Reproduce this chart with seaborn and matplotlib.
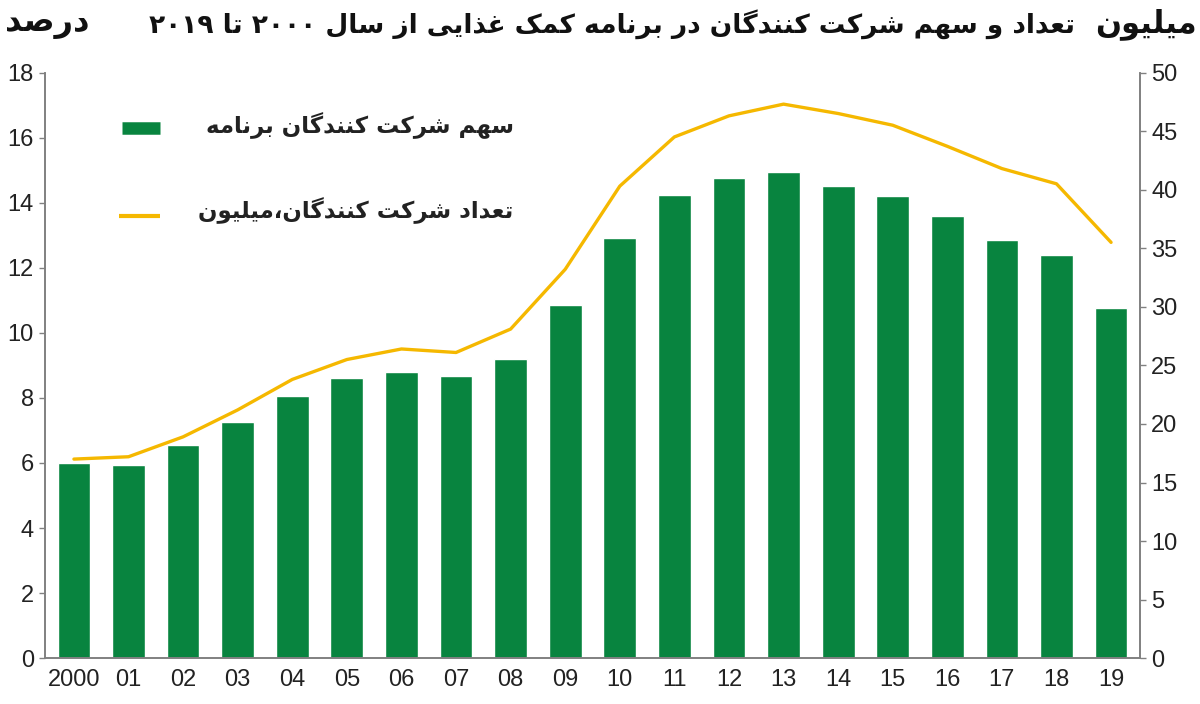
import re
import numpy as np
import pandas as pd
import seaborn as sns
import matplotlib.pyplot as plt

years = ["2000", "01", "02", "03", "04", "05", "06", "07", "08", "09",
         "10", "11", "12", "13", "14", "15", "16", "17", "18", "19"]
share_pct = [6.0, 5.95, 6.55, 7.25, 8.05, 8.6, 8.8, 8.67, 9.2, 10.85,
             12.9, 14.25, 14.75, 14.95, 14.5, 14.2, 13.6, 12.85, 12.4, 10.75]
count_mln = [17.0, 17.2, 18.9, 21.2, 23.8, 25.5, 26.4, 26.1, 28.1, 33.2,
             40.3, 44.5, 46.3, 47.3, 46.5, 45.5, 43.7, 41.8, 40.5, 35.5]

title_txt = "تعداد و سهم شرکت کنندگان در برنامه کمک غذایی از سال ۲۰۰۰ تا ۲۰۱۹"
left_unit = "درصد"
right_unit = "میلیون"
legend_bar = "سهم شرکت کنندگان برنامه"
legend_line = "تعداد شرکت کنندگان،میلیون"

# matplotlib has no arabic shaping: map letters to presentation forms by hand
FORMS = {
    'ا': ('\uFE8D', '\uFE8E', None, None),
    'ب': ('\uFE8F', '\uFE90', '\uFE91', '\uFE92'),
    'ت': ('\uFE95', '\uFE96', '\uFE97', '\uFE98'),
    'د': ('\uFEA9', '\uFEAA', None, None),
    'ذ': ('\uFEAB', '\uFEAC', None, None),
    'ر': ('\uFEAD', '\uFEAE', None, None),
    'ز': ('\uFEAF', '\uFEB0', None, None),
    'س': ('\uFEB1', '\uFEB2', '\uFEB3', '\uFEB4'),
    'ش': ('\uFEB5', '\uFEB6', '\uFEB7', '\uFEB8'),
    'ص': ('\uFEB9', '\uFEBA', '\uFEBB', '\uFEBC'),
    'ع': ('\uFEC9', '\uFECA', '\uFECB', '\uFECC'),
    'غ': ('\uFECD', '\uFECE', '\uFECF', '\uFED0'),
    'ل': ('\uFEDD', '\uFEDE', '\uFEDF', '\uFEE0'),
    'م': ('\uFEE1', '\uFEE2', '\uFEE3', '\uFEE4'),
    'ن': ('\uFEE5', '\uFEE6', '\uFEE7', '\uFEE8'),
    'ه': ('\uFEE9', '\uFEEA', '\uFEEB', '\uFEEC'),
    'و': ('\uFEED', '\uFEEE', None, None),
    'ک': ('\uFB8E', '\uFB8F', '\uFB90', '\uFB91'),
    'گ': ('\uFB92', '\uFB93', '\uFB94', '\uFB95'),
    'ی': ('\uFBFC', '\uFBFD', '\uFBFE', '\uFBFF'),
}


def fa(text):
    out = []
    for i, ch in enumerate(text):
        if ch not in FORMS:
            out.append(ch)
            continue
        prev = text[i - 1] if i > 0 else ''
        nxt = text[i + 1] if i + 1 < len(text) else ''
        f = FORMS[ch]
        jp = prev in FORMS and FORMS[prev][2] is not None
        jn = nxt in FORMS and f[2] is not None
        if jp and jn:
            out.append(f[3])
        elif jp:
            out.append(f[1])
        elif jn:
            out.append(f[2])
        else:
            out.append(f[0])
    s = ''.join(out)[::-1]
    return re.sub(r'[0-9۰-۹]+', lambda m: m.group(0)[::-1], s)


sns.set_style("white")
plt.rcParams['font.family'] = ['Liberation Sans', 'DejaVu Sans']

df = pd.DataFrame({"year": years, "share": share_pct, "count": count_mln})

fig = plt.figure(figsize=(12, 7.04), dpi=100)
ax = fig.add_axes([0.0375, 0.065, 0.9125, 0.832])
sns.barplot(data=df, x="year", y="share", color="#08843f", saturation=1,
            width=0.6, ax=ax)
ax2 = ax.twinx()
sns.lineplot(x=np.arange(len(years)), y=df["count"], color="#f5b800",
             linewidth=2.4, ax=ax2)

ax.set_xlim(-0.53, len(years) - 0.47)
ax.set_ylim(0, 18)
ax2.set_ylim(0, 50)
ax.set_yticks(range(0, 19, 2))
ax2.set_yticks(range(0, 51, 5))
ax.set_xlabel("")
ax.set_ylabel("")
ax2.set_ylabel("")

for a in (ax, ax2):
    a.spines["top"].set_visible(False)
    for s in ("left", "right", "bottom"):
        a.spines[s].set_color("#808080")
        a.spines[s].set_linewidth(1.2)
    a.tick_params(axis="y", direction="out", length=4, width=1,
                  color="#808080", labelsize=17, labelcolor="#222222", pad=4)
ax.tick_params(axis="x", length=0, labelsize=17, labelcolor="#222222", pad=8)

# legend drawn by hand like the original
ax.plot([0.07, 0.105], [0.905, 0.905], transform=ax.transAxes,
        color="#08843f", linewidth=9, solid_capstyle="butt")
ax.plot([0.068, 0.105], [0.755, 0.755], transform=ax.transAxes,
        color="#f5b800", linewidth=3, solid_capstyle="butt")
ax.text(0.428, 0.91, fa(legend_bar), transform=ax.transAxes, ha="right",
        va="center", fontsize=16.5, fontweight="bold", family="DejaVu Sans",
        color="#222222")
ax.text(0.428, 0.765, fa(legend_line), transform=ax.transAxes, ha="right",
        va="center", fontsize=16.5, fontweight="bold", family="DejaVu Sans",
        color="#222222")

fig.text(0.51, 0.966, fa(title_txt), ha="center", va="center", fontsize=19,
         fontweight="bold", family="DejaVu Sans", color="#111111")
fig.text(0.004, 0.966, fa(left_unit), ha="left", va="center", fontsize=23,
         fontweight="bold", family="DejaVu Sans", color="#111111")
fig.text(0.997, 0.966, fa(right_unit), ha="right", va="center", fontsize=22,
         fontweight="bold", family="DejaVu Sans", color="#111111")

fig.savefig("out.png", dpi=100)
